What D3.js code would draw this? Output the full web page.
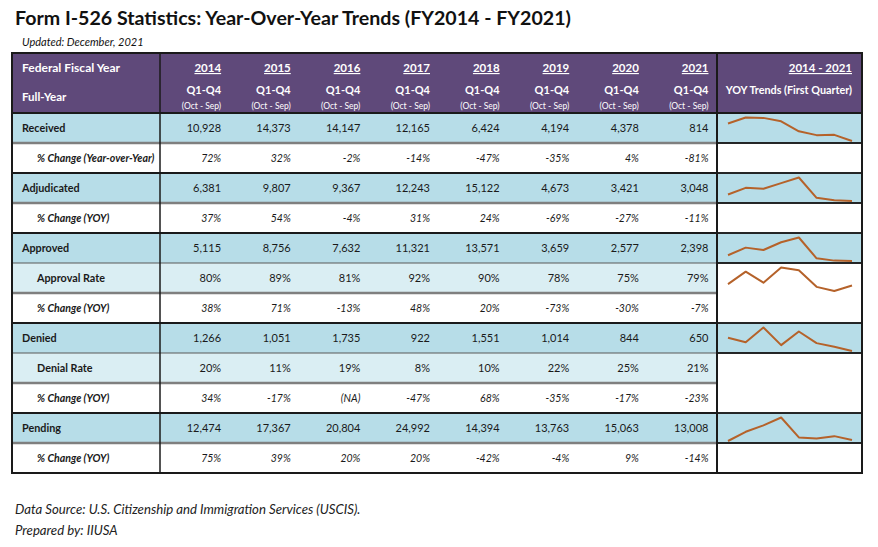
<!DOCTYPE html>
<html>
<head>
<meta charset="utf-8">
<script src="https://cdn.jsdelivr.net/npm/d3@7"></script>
<style>
  html, body { margin: 0; padding: 0; background: #ffffff; }
  svg text { font-family: Lato, "Open Sans", sans-serif; }
</style>
</head>
<body>
<svg id="chart" width="878" height="547"></svg>
<script>
// ---------------- data ----------------
const years = ["2014", "2015", "2016", "2017", "2018", "2019", "2020", "2021"];
const received = [10928, 14373, 14147, 12165, 6424, 4194, 4378, 814];
const receivedChange = [72, 32, -2, -14, -47, -35, 4, -81];
const adjudicated = [6381, 9807, 9367, 12243, 15122, 4673, 3421, 3048];
const adjudicatedChange = [37, 54, -4, 31, 24, -69, -27, -11];
const approved = [5115, 8756, 7632, 11321, 13571, 3659, 2577, 2398];
const approvalRate = [80, 89, 81, 92, 90, 78, 75, 79];
const approvedChange = [38, 71, -13, 48, 20, -73, -30, -7];
const denied = [1266, 1051, 1735, 922, 1551, 1014, 844, 650];
const denialRate = [20, 11, 19, 8, 10, 22, 25, 21];
const deniedChange = [34, -17, null, -47, 68, -35, -17, -23];
const pending = [12474, 17367, 20804, 24992, 14394, 13763, 15063, 13008];
const pendingChange = [75, 39, 20, 20, -42, -4, 9, -14];

const rows = [
  { label: "Received", kind: "main", values: received, spark: 1 },
  { label: "% Change (Year-over-Year)", kind: "pct", values: receivedChange },
  { label: "Adjudicated", kind: "main", values: adjudicated, spark: 1 },
  { label: "% Change (YOY)", kind: "pct", values: adjudicatedChange },
  { label: "Approved", kind: "main", values: approved, spark: 1 },
  { label: "Approval Rate", kind: "rate", values: approvalRate, spark: 2 },
  { label: "% Change (YOY)", kind: "pct", values: approvedChange, covered: true },
  { label: "Denied", kind: "main", values: denied, spark: 1 },
  { label: "Denial Rate", kind: "rate", values: denialRate, blank: 2 },
  { label: "% Change (YOY)", kind: "pct", values: deniedChange, covered: true },
  { label: "Pending", kind: "main", values: pending, spark: 1 },
  { label: "% Change (YOY)", kind: "pct", values: pendingChange }
];

// ---------------- layout ----------------
const svg = d3.select("#chart");
const C = {
  purple: "#5f497a", blue: "#b7dde8", light: "#daeef3", white: "#ffffff",
  dark: "#1a1a1a", gray: "#7f7f7f", spark: "#b5622a", text: "#1a1a1a"
};
const tableLeft = 12, tableRight = 862, labelRight = 160, sparkLeft = 717;
const headTop = 53, headBottom = 113, rowH = 30;

const x = d3.scaleBand().domain(years).range([labelRight, sparkLeft]);
const y = d3.scaleBand().domain(d3.range(rows.length)).range([headBottom, headBottom + rowH * rows.length]);
const colRight = yr => x(yr) + x.bandwidth() - 8.5;
const tableBottom = headBottom + rowH * rows.length;

// title
svg.append("text").attr("x", 15).attr("y", 25)
  .attr("font-size", 19.6).attr("font-weight", 700).attr("fill", "#111")
  .text("Form I-526 Statistics: Year-Over-Year Trends (FY2014 - FY2021)");
svg.append("text").attr("x", 22).attr("y", 46)
  .attr("font-size", 11).attr("font-style", "italic").attr("fill", "#111")
  .text("Updated: December, 2021");

// header background
svg.append("rect").attr("x", tableLeft).attr("y", headTop)
  .attr("width", tableRight - tableLeft).attr("height", headBottom - headTop)
  .attr("fill", C.purple);

// row backgrounds
const fillFor = r => r.kind === "main" ? C.blue : (r.kind === "rate" ? C.light : C.white);
svg.selectAll("rect.rowbg").data(rows).join("rect").attr("class", "rowbg")
  .attr("x", tableLeft).attr("y", (d, i) => y(i))
  .attr("width", sparkLeft - tableLeft).attr("height", rowH)
  .attr("fill", fillFor);

// spark column cells
const sparkCells = [];
rows.forEach((r, i) => {
  if (r.covered) return;
  const span = r.spark || r.blank || 1;
  sparkCells.push({ i, span, fill: r.kind === "main" ? C.blue : C.white, row: r });
});
svg.selectAll("rect.sparkcell").data(sparkCells).join("rect").attr("class", "sparkcell")
  .attr("x", sparkLeft).attr("y", d => y(d.i))
  .attr("width", tableRight - sparkLeft).attr("height", d => rowH * d.span)
  .attr("fill", d => d.fill);

// horizontal rules inside the data area
rows.forEach((r, i) => {
  if (i === 0) return;
  let stroke = C.dark, w = 2;
  if (r.kind === "rate") { stroke = "#595959"; w = 1; }
  else if (r.kind === "pct") { stroke = C.gray; w = 2.5; }
  svg.append("line").attr("x1", tableLeft).attr("x2", sparkLeft)
    .attr("y1", y(i)).attr("y2", y(i))
    .attr("stroke", stroke).attr("stroke-width", w);
});
// spark cell borders
svg.selectAll("rect.sparkborder").data(sparkCells).join("rect").attr("class", "sparkborder")
  .attr("x", sparkLeft).attr("y", d => y(d.i))
  .attr("width", tableRight - sparkLeft).attr("height", d => rowH * d.span)
  .attr("fill", "none").attr("stroke", C.dark).attr("stroke-width", 1.5);

// vertical rules and outer border
svg.append("line").attr("x1", labelRight).attr("x2", labelRight)
  .attr("y1", headTop).attr("y2", tableBottom).attr("stroke", C.dark).attr("stroke-width", 1.5);
svg.append("line").attr("x1", sparkLeft).attr("x2", sparkLeft)
  .attr("y1", headTop).attr("y2", tableBottom).attr("stroke", C.dark).attr("stroke-width", 2);
svg.append("line").attr("x1", tableLeft).attr("x2", tableRight)
  .attr("y1", headBottom).attr("y2", headBottom).attr("stroke", C.dark).attr("stroke-width", 2);
svg.append("rect").attr("x", tableLeft).attr("y", headTop)
  .attr("width", tableRight - tableLeft).attr("height", tableBottom - headTop)
  .attr("fill", "none").attr("stroke", C.dark).attr("stroke-width", 2);

// header texts
const head = svg.append("g").attr("fill", "#ffffff").attr("font-weight", 700);
head.append("text").attr("x", 22).attr("y", 72).attr("font-size", 12).text("Federal Fiscal Year");
head.append("text").attr("x", 22).attr("y", 101).attr("font-size", 11.5).text("Full-Year");
head.selectAll("text.yr").data(years).join("text").attr("class", "yr")
  .attr("x", colRight).attr("y", 72).attr("text-anchor", "end").attr("font-size", 11.5)
  .attr("text-decoration", "underline").text(d => d);
head.selectAll("text.q").data(years).join("text").attr("class", "q")
  .attr("x", colRight).attr("y", 94).attr("text-anchor", "end").attr("font-size", 11)
  .text("Q1-Q4");
head.selectAll("text.os").data(years).join("text").attr("class", "os")
  .attr("x", colRight).attr("y", 109).attr("text-anchor", "end").attr("font-size", 8.5)
  .attr("font-weight", 400).text("(Oct - Sep)");
head.append("text").attr("x", 852).attr("y", 72).attr("text-anchor", "end").attr("font-size", 11.5)
  .attr("text-decoration", "underline").text("2014 - 2021");
head.append("text").attr("x", 852).attr("y", 94).attr("text-anchor", "end").attr("font-size", 10.8)
  .text("YOY Trends (First Quarter)");

// row labels
const body = svg.append("g").attr("fill", C.text);
body.selectAll("text.lbl").data(rows).join("text").attr("class", "lbl")
  .attr("x", d => d.kind === "main" ? 22 : 37)
  .attr("y", (d, i) => y(i) + rowH / 2 + 4)
  .attr("font-size", d => d.kind === "pct" ? 10.6 : 10.8)
  .attr("font-weight", 700)
  .attr("font-style", d => d.kind === "pct" ? "italic" : "normal")
  .text(d => d.label);

// cell values
const fmtNum = d3.format(",");
const cellText = (r, v) => {
  if (v === null || v === undefined) return "(NA)";
  if (r.kind === "main") return fmtNum(v);
  return v + "%";
};
rows.forEach((r, i) => {
  body.append("g").selectAll("text").data(r.values).join("text")
    .attr("x", (v, j) => colRight(years[j]))
    .attr("y", y(i) + rowH / 2 + 4)
    .attr("text-anchor", "end")
    .attr("font-size", r.kind === "pct" ? 10.5 : 11)
    .attr("font-style", r.kind === "pct" ? "italic" : "normal")
    .text(v => cellText(r, v));
});

// sparklines
const sx = d3.scalePoint().domain(years).range([728, 852]);
rows.forEach((r, i) => {
  if (!r.spark) return;
  const top = y(i) + 4.5, bottom = y(i) + rowH - 2;
  const sy = d3.scaleLinear().domain(d3.extent(r.values)).range([bottom, top]);
  const line = d3.line().x((v, j) => sx(years[j])).y(v => sy(v));
  svg.append("path").datum(r.values).attr("d", line)
    .attr("fill", "none").attr("stroke", C.spark).attr("stroke-width", 2)
    .attr("stroke-linejoin", "round");
});

// footnotes
svg.append("text").attr("x", 15).attr("y", 514).attr("font-size", 13.2).attr("font-style", "italic")
  .attr("fill", "#222").text("Data Source: U.S. Citizenship and Immigration Services (USCIS).");
svg.append("text").attr("x", 15).attr("y", 535).attr("font-size", 13.2).attr("font-style", "italic")
  .attr("fill", "#222").text("Prepared by: IIUSA");
</script>
</body>
</html>
